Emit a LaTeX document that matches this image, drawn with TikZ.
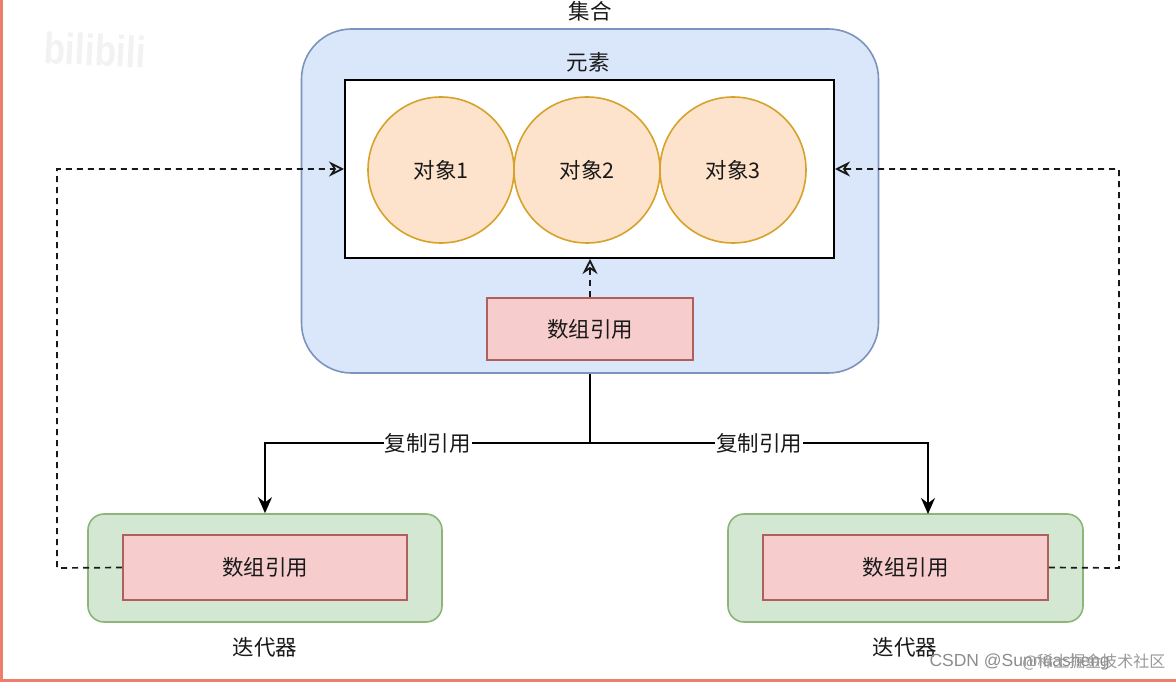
\documentclass[tikz,border=0pt]{standalone}
\usepackage{fontspec}
\usepackage{xcolor}
\setmainfont{Noto Sans CJK SC}
\newfontfamily\wmfont{Liberation Sans}
\usetikzlibrary{arrows.meta}
\definecolor{OuterBlue}{HTML}{DAE6FA}
\definecolor{OuterEdge}{HTML}{7C93BC}
\definecolor{ObjFill}{HTML}{FDE3CC}
\definecolor{ObjEdge}{HTML}{D6A22A}
\definecolor{RefFill}{HTML}{F6CDCC}
\definecolor{RefEdge}{HTML}{B0605C}
\definecolor{IterFill}{HTML}{D3E7D3}
\definecolor{IterEdge}{HTML}{8DB479}
\definecolor{FrameRed}{RGB}{238,125,110}
\tikzset{
  x=1pt, y=-1pt,
  every node/.style={font=\fontsize{21.5}{25}\selectfont, text=black!90},
  objcircle/.style={circle, draw=ObjEdge, line width=1.6pt, fill=ObjFill, minimum size=146pt, inner sep=0pt},
  refbox/.style={draw=RefEdge, line width=1.8pt, fill=RefFill, inner sep=0pt},
  iterbox/.style={draw=IterEdge, line width=1.6pt, fill=IterFill, rounded corners=16pt, minimum width=354pt, minimum height=108pt, inner sep=0pt},
  copyline/.style={-{Stealth[length=16pt,width=14pt]}, line width=2pt, black},
  refline/.style={-{Stealth[open,length=15pt,width=15pt,inset=5pt]}, dash pattern=on 6pt off 5pt, line width=1.7pt, black!90},
  copylabel/.style={fill=white, inner sep=1pt}
}
\begin{document}
\begin{tikzpicture}
  \useasboundingbox (0,0) rectangle (1176,682);
  \fill[FrameRed] (0,0) rectangle (2.5,682);
  \fill[FrameRed] (0,678.5) rectangle (1176,682);
  \node[font=\wmfont\bfseries\fontsize{44}{48}\selectfont, text=black!5, rotate=-3, xscale=.8] (bili) at (95,50) {bilibili};

  \node[draw=OuterEdge, line width=1.6pt, fill=OuterBlue, rounded corners=50pt, minimum width=577pt, minimum height=344pt, inner sep=0pt] (outer) at (590,201) {};
  \node[draw=black, line width=2pt, fill=white, minimum width=489pt, minimum height=178pt, inner sep=0pt] (elems) at (589.5,169) {};
  \node (outertitle) at (590,11) {集合};
  \node (elemstitle) at (588,62) {元素};
  \node[objcircle] (obja) at (441,170) {对象1};
  \node[objcircle] (objb) at (587,170) {对象2};
  \node[objcircle] (objc) at (733,170) {对象3};
  \node[refbox, minimum width=206pt, minimum height=62pt] (ref) at (590,329) {数组引用};

  \node[iterbox] (iterl) at (265,568) {};
  \node[refbox, minimum width=284pt, minimum height=65pt] (refl) at (265,567.5) {数组引用};
  \node[iterbox, minimum width=355pt] (iterr) at (905.5,568) {};
  \node[refbox, minimum width=285pt, minimum height=65pt] (refr) at (905.5,567.5) {数组引用};
  \node (iterltitle) at (265,647) {迭代器};
  \node (iterrtitle) at (905,647) {迭代器};

  \coordinate (split) at (590,443);
  \coordinate (iterrin) at (928,514);
  \draw[copyline] (outer.south) -- (split) -| node[copylabel, pos=0.25] (copyl) {复制引用} (iterl.north);
  \draw[copyline] (split) -| node[copylabel, pos=0.25] (copyr) {复制引用} (iterrin);

  \draw[refline] (ref.north) -- (ref.north |- elems.south);
  \draw[refline] (refl.west) -- (57,568) |- (elems.west);
  \draw[refline] (refr.east) -- (1119,568) |- (elems.east);

  \node[font=\wmfont\fontsize{17.5}{20}\selectfont, text=black!45, anchor=west] (csdn) at (926,662) {CSDN @Sunnuasheng};
  \node[font=\fontsize{16}{20}\selectfont, text=black!40, anchor=east] (juejin) at (1169,662) {@稀土掘金技术社区};
\end{tikzpicture}
\end{document}
